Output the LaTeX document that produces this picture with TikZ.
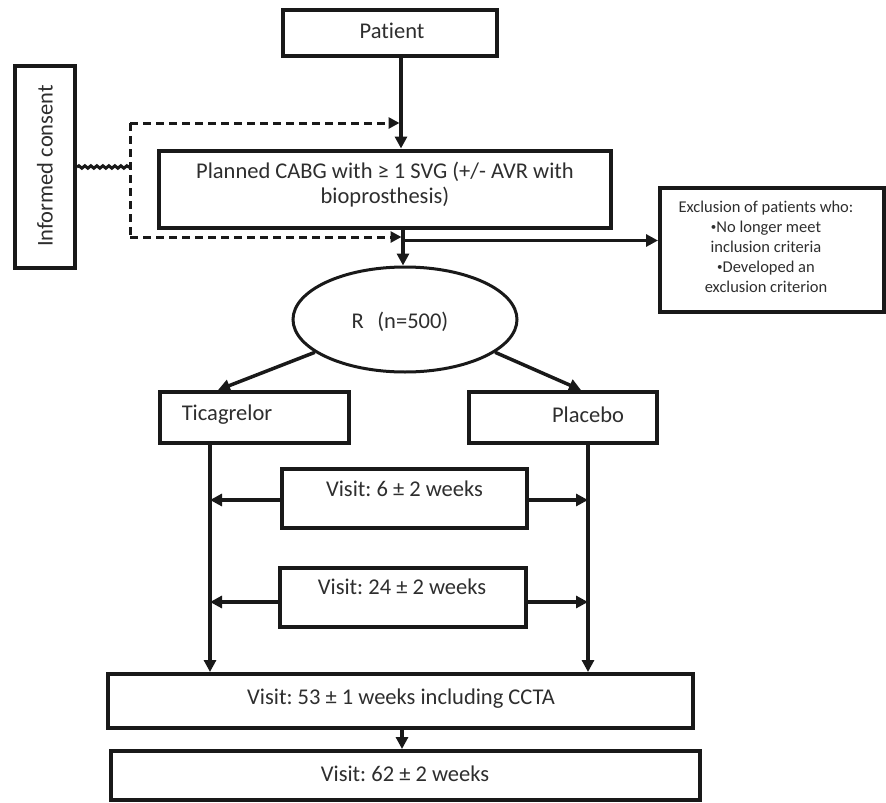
\documentclass[tikz,border=0pt]{standalone}
\usepackage{fontspec}
\setmainfont{Carlito}[Ligatures=NoCommon]
\usetikzlibrary{shapes.geometric,arrows.meta,decorations.pathmorphing}
\frenchspacing

\tikzset{
  box/.style={draw=black!90, line width=4pt, rectangle, inner sep=0pt},
  txt/.style={text=black!82, font=\fontsize{22.5}{25}\selectfont, inner sep=0pt, align=center},
  small/.style={text=black!82, font=\fontsize{16.5}{20}\selectfont, inner sep=0pt, align=center},
  conn/.style={draw=black!90, line width=3.5pt},
  arr/.style={conn, -{Triangle[length=12pt,width=12pt]}},
  dashline/.style={draw=black!90, line width=3pt, dash pattern=on 8pt off 5pt},
  dasharr/.style={dashline, -{Triangle[length=11pt,width=11pt]}},
}
\newcommand{\smallbullet}{{\fontsize{11}{11}\selectfont\raisebox{.45ex}{•}}}

\begin{document}
\begin{tikzpicture}[x=1pt,y=-1pt]
  \useasboundingbox (0,0) rectangle (886,803);
  \fill[white] (0,0) rectangle (886,803);

  % boxes
  \node[box, minimum width=214, minimum height=46] (pat) at (390,32.5) {};
  \node[txt] (pattxt) at (392,31) {Patient};

  \node[box, minimum width=60, minimum height=202] (ic) at (45,167) {};
  \node[txt, rotate=90] (ictxt) at (45,166) {Informed consent};

  \node[box, minimum width=452, minimum height=77] (plan) at (385,189) {};
  \node[txt] (plantxt) at (385,185) {Planned CABG with ≥ 1 SVG (+/- AVR with\\bioprosthesis)};

  \node[box, minimum width=224, minimum height=124] (exc) at (772,250) {};
  \node[small] (exctxt) at (766,247) {Exclusion of patients who:\\
    \smallbullet No longer meet\\inclusion criteria\\
    \smallbullet Developed an\\exclusion criterion};

  \node[draw=black!90, line width=3pt, ellipse, minimum width=224, minimum height=105, inner sep=0pt] (ell) at (405,319.5) {};
  \node[txt] (elltxt) at (400,322) {R\hspace{0.6em}(n=500)};

  \node[box, minimum width=189, minimum height=51] (tic) at (254.5,417.5) {};
  \node[txt] (tictxt) at (227,415) {Ticagrelor};

  \node[box, minimum width=188, minimum height=51] (plc) at (563,417.5) {};
  \node[txt] (plctxt) at (588,415) {Placebo};

  \node[box, minimum width=245, minimum height=59] (v6) at (404.5,498.5) {};
  \node[txt] (v6txt) at (404.5,489) {Visit: 6 ± 2 weeks};

  \node[box, minimum width=246, minimum height=59] (v24) at (403,597.5) {};
  \node[txt] (v24txt) at (402,587) {Visit: 24 ± 2 weeks};

  \node[box, minimum width=585, minimum height=54] (v53) at (400.5,701) {};
  \node[txt] (v53txt) at (401,699) {Visit: 53 ± 1 weeks including CCTA};

  \node[box, minimum width=589, minimum height=49] (v62) at (405.5,775.5) {};
  \node[txt] (v62txt) at (405,774) {Visit: 62 ± 2 weeks};

  % main flow
  \coordinate (pl) at ([xshift=11pt]pat.south);
  \draw[arr] (pl) -- (pl |- plan.north);

  \coordinate (pb) at ([xshift=18pt]plan.south);
  \draw[arr] (pb) -- (pb |- ell.north);
  \coordinate (jn) at ([yshift=-11pt]pb);
  \draw[arr] (jn) -- (jn -| exc.west);

  % consent links
  \coordinate (dtop) at (130,123);
  \coordinate (dbot) at (130,237);
  \draw[dashline] (dtop) -- (dbot);
  \draw[dasharr] (dtop) -- ([xshift=-1.5pt]dtop -| pl);
  \draw[dasharr] (dbot) -- ([xshift=-1.5pt]dbot -| pb);
  \draw[draw=black!90, line width=3pt, decorate,
        decoration={snake, amplitude=1.2pt, segment length=6pt}]
        (ic.east) -- (ic.east -| dtop);

  % randomisation
  \draw[arr] (ell.200) -- ([xshift=60pt]tic.north west);
  \draw[arr] (ell.340) -- ([xshift=114pt]plc.north west);

  % treatment arms
  \coordinate (ta) at ([xshift=52pt]tic.south west);
  \coordinate (pa) at ([xshift=121pt]plc.south west);
  \draw[arr] (ta) -- (ta |- v53.north);
  \draw[arr] (pa) -- (pa |- v53.north);

  % follow-up visits
  \draw[arr] ([yshift=-1.5pt]v6.west) -- ([yshift=-1.5pt]v6.west -| ta);
  \draw[arr] ([yshift=-1.5pt]v6.east) -- ([yshift=-1.5pt]v6.east -| pa);
  \draw[arr] ([yshift=-4.5pt]v24.west) -- ([yshift=-4.5pt]v24.west -| ta);
  \draw[arr] ([yshift=-4.5pt]v24.east) -- ([yshift=-4.5pt]v24.east -| pa);

  \draw[arr] ([xshift=1.5pt]v53.south) -- ([xshift=1.5pt]v53.south |- v62.north);
\end{tikzpicture}
\end{document}
